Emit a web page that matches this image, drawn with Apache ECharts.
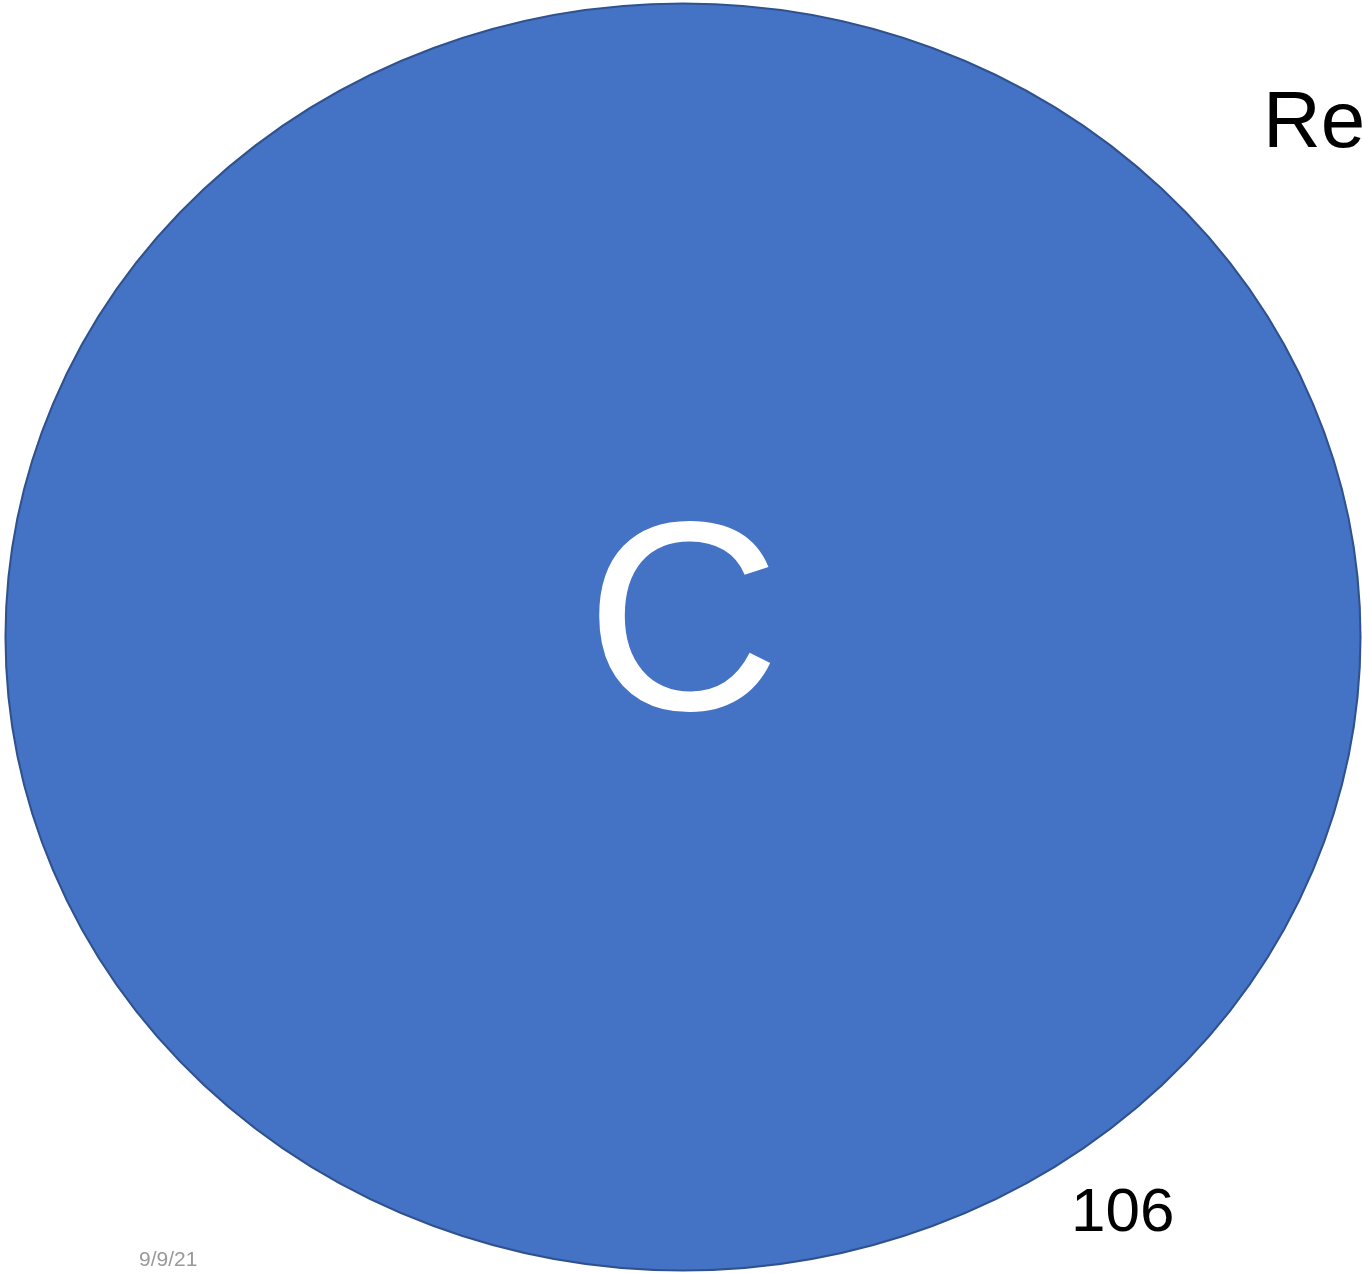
<!DOCTYPE html>
<html>
<head>
<meta charset="utf-8">
<script src="https://cdn.jsdelivr.net/npm/echarts@6/dist/echarts.min.js"></script>
<style>
  html, body { margin: 0; padding: 0; background: #fff; }
  #chart { width: 1362px; height: 1273px; }
</style>
</head>
<body>
<div id="chart"></div>
<script>
// venn sets (only one set here)
var setNames = ['C'];
var setCounts = [106];
var setCenters = [[1, 1]];
var titleText = 'Reads';
var dateText = '9/9/21';

var chart = echarts.init(document.getElementById('chart'));

var points = setNames.map(function (name, i) {
  return { name: name, value: setCenters[i].concat(setCounts[i]) };
});

var option = {
  animation: false,
  backgroundColor: '#ffffff',
  grid: { left: 5, right: 1, top: 3, bottom: 2 },
  xAxis: { type: 'value', min: 0, max: 2, show: false },
  yAxis: { type: 'value', min: 0, max: 2, show: false },
  series: [
    {
      type: 'scatter',
      symbol: 'circle',
      symbolSize: [1355, 1267],
      itemStyle: {
        color: '#4472C4',
        borderColor: '#2F528F',
        borderWidth: 2,
        opacity: 1
      },
      label: {
        show: true,
        position: 'inside',
        formatter: '{b}',
        color: '#ffffff',
        fontFamily: 'Liberation Sans',
        fontSize: 270,
        offset: [0, -2]
      },
      data: points
    }
  ],
  graphic: [
    {
      type: 'text',
      x: 1263, y: 125,
      style: {
        text: titleText,
        font: '80px "Liberation Sans"',
        fill: '#000',
        verticalAlign: 'middle'
      }
    },
    {
      type: 'text',
      x: 1071, y: 1214,
      style: {
        text: String(setCounts[0]),
        font: '62px "Liberation Sans"',
        fill: '#000',
        verticalAlign: 'middle'
      }
    },
    {
      type: 'text',
      x: 139, y: 1260,
      style: {
        text: dateText,
        font: '21px "Liberation Sans"',
        fill: '#999999',
        verticalAlign: 'middle'
      }
    }
  ]
};

chart.setOption(option);
</script>
</body>
</html>
